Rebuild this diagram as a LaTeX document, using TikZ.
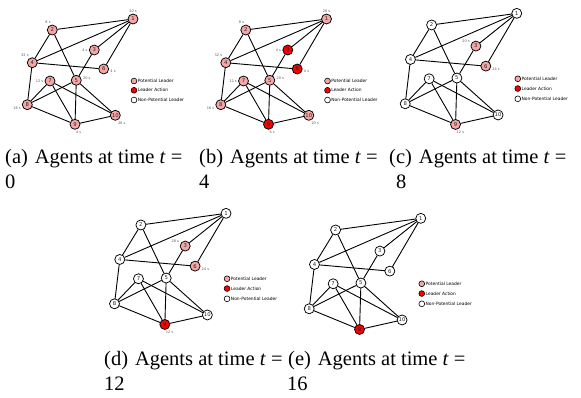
\documentclass[tikz,border=0pt]{standalone}
\usepackage{fontspec}
\setmainfont{Liberation Serif}
\newfontfamily\graphfont{DejaVu Sans}
\usetikzlibrary{positioning}

\definecolor{leaderpink}{RGB}{245,166,166}
\definecolor{leaderred}{RGB}{250,0,0}

\tikzset{
  agent/.style={circle, draw=black, line width=0.75pt, minimum size=10pt, inner sep=0pt,
    text=black!85, font=\graphfont\fontsize{5.3}{6}\selectfont},
  potl/.style={fill=leaderpink},
  lead/.style={fill=leaderred},
  nonpl/.style={fill=white},
  link/.style={line width=0.9pt},
  agtime/.style={font=\graphfont\fontsize{3.5}{4}\selectfont, text=black!65,
    inner sep=0.4pt, label distance=0.8pt},
  legdot/.style={circle, draw=black, line width=0.6pt, minimum size=5.8pt, inner sep=0pt},
  legtext/.style={font=\graphfont\fontsize{4.4}{5}\selectfont, inner sep=0.3pt},
  subcap/.style={font=\fontsize{20.5}{25}\selectfont, anchor=base west, inner sep=0pt},
}

% one panel: #1 = name prefix, #2 = scope options, #3 = node/state/time/angle
\newcommand\agentpanel[3]{%
  \begin{scope}[#2]
    \foreach \i/\x/\y in {1/133/19, 2/52.3/30, 3/94.3/50, 4/32.3/62.7, 5/76.3/80.3,
                          6/103.7/69, 7/50/81, 8/27.3/104.7, 9/75/124.3, 10/115.3/115.3}
      \coordinate (#1p\i) at (\x,\y);
    \foreach \i/\st/\tm/\ang in {#3}
      \node[agent, \st, label={[agtime]\ang:\tm}] (#1\i) at (#1p\i) {\i};
    \foreach \u/\v in {1/2, 1/3, 1/4, 1/6, 2/4, 2/5, 3/5, 4/6, 4/8,
                       5/8, 5/9, 5/10, 7/8, 7/9, 7/10, 8/9, 9/10}
      \draw[link] (#1\u) -- (#1\v);
    % legend
    \node[legdot, potl]  (#1k1) at (134,81)   {};
    \node[legdot, lead]  (#1k2) at (134,90.3) {};
    \node[legdot, nonpl] (#1k3) at (134,100)  {};
    \node[legtext, right=0.2pt of #1k1] (#1k1t) {Potential Leader};
    \node[legtext, right=0.2pt of #1k2] (#1k2t) {Leader Action};
    \node[legtext, right=0.2pt of #1k3] (#1k3t) {Non-Potential Leader};
  \end{scope}}

\begin{document}
\begin{tikzpicture}[x=1pt, y=-1pt, line cap=round, line join=round]
  \useasboundingbox (0,0) rectangle (581,397);

  %% ---- top row ----
  \agentpanel{a}{}{1/potl/20 s/90, 2/potl/8 s/100, 3/potl/4 s/180, 4/potl/32 s/120,
    5/potl/20 s/5, 6/potl/4 s/-5, 7/potl/12 s/180, 8/potl/16 s/195, 9/potl/4 s/-85, 10/potl/20 s/-70}
  \agentpanel{b}{shift={(193.5,0)}}{1/potl/20 s/90, 2/potl/8 s/100, 3/lead/4 s/180, 4/potl/32 s/120,
    5/potl/20 s/5, 6/lead/4 s/-5, 7/potl/12 s/180, 8/potl/16 s/195, 9/lead/4 s/-85, 10/potl/20 s/-70}
  \agentpanel{c}{shift={(376.4,-6.7)}, scale=1.055}{1/nonpl//0, 2/nonpl//0, 3/potl/20 s/155, 4/nonpl//0,
    5/nonpl//0, 6/potl/24 s/-15, 7/nonpl//0, 8/nonpl//0, 9/potl/12 s/-85, 10/nonpl//0}

  %% ---- bottom row ----
  \agentpanel{d}{shift={(85.7,193.3)}, scale=1.055}{1/nonpl//0, 2/nonpl//0, 3/potl/28 s/155, 4/nonpl//0,
    5/nonpl//0, 6/potl/24 s/-15, 7/nonpl//0, 8/nonpl//0, 9/lead/12 s/-85, 10/nonpl//0}
  \agentpanel{e}{shift={(280.4,198.3)}, scale=1.055}{1/nonpl//0, 2/nonpl//0, 3/nonpl//0, 4/nonpl//0,
    5/nonpl//0, 6/nonpl//0, 7/nonpl//0, 8/nonpl//0, 9/lead//0, 10/nonpl//0}

  %% ---- captions ----
  \node[subcap] (capa)  at (5,163)   {(a)\hspace{7pt}Agents at time \textit{t} =};
  \node[subcap] (capa2) at (5,188)   {0};
  \node[subcap] (capb)  at (199,163) {(b)\hspace{7pt}Agents at time \textit{t} =};
  \node[subcap] (capb2) at (199,188) {4};
  \node[subcap] (capc)  at (389,163) {(c)\hspace{7pt}Agents at time \textit{t} =};
  \node[subcap] (capc2) at (396,188) {8};
  \node[subcap] (capd)  at (104,365) {(d)\hspace{7pt}Agents at time \textit{t} =};
  \node[subcap] (capd2) at (104,390) {12};
  \node[subcap] (cape)  at (288,365) {(e)\hspace{7pt}Agents at time \textit{t} =};
  \node[subcap] (cape2) at (287,390) {16};
\end{tikzpicture}
\end{document}
